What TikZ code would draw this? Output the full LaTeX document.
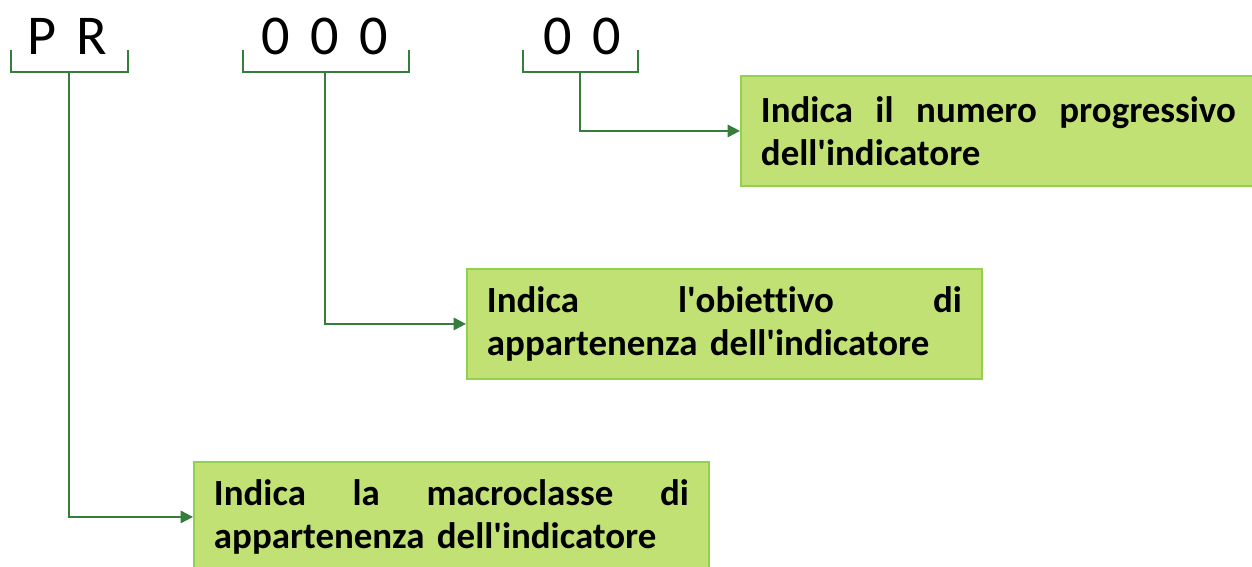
\documentclass[tikz,border=0pt]{standalone}
\usepackage{fontspec}
\setmainfont{Carlito}[Ligatures=CommonOff]
\newfontfamily\codefont{Carlito}[WordSpace=1.6]
\usetikzlibrary{arrows.meta,positioning}
\definecolor{boxfill}{RGB}{194,225,117}
\definecolor{boxline}{RGB}{146,208,80}
\definecolor{linkgreen}{RGB}{52,125,58}
\tikzset{
  code/.style={font=\codefont\fontsize{32}{34}\selectfont, inner sep=0pt, anchor=base},
  brace/.style={linkgreen, line width=1.1pt},
  link/.style={linkgreen, line width=1.1pt, -{Triangle[length=7pt,width=7pt]}},
  infobox/.style={draw=boxline, fill=boxfill, line width=1.1pt,
    minimum width=10.3cm, minimum height=2.2cm, text width=9.5cm,
    align=left, font=\bfseries\fontsize{21}{24.4}\selectfont,
    anchor=north west}
}
\begin{document}
\begin{tikzpicture}[x=0.02cm,y=-0.02cm]
  \useasboundingbox (0,0) rectangle (1252,567);
  % parts of the code
  \node[code] (pr)  at (67,55)  {P R};
  \node[code] (obj) at (325,55) {0 0 0};
  \node[code] (num) at (582,55) {0 0};
  % brackets under the parts
  \draw[brace] (11,50) |- (128,72) -- (128,50);
  \draw[brace] (243,50) |- (409,72) -- (409,50);
  \draw[brace] (523,50) |- (638,72) -- (638,50);
  \coordinate (prstem)  at (69,72);
  \coordinate (objstem) at (325,72);
  \coordinate (numstem) at (580,72);
  % explanations
  \node[infobox] (prog) at (740,75)
    {Indica\hfill il\hfill numero\hfill progressivo\\dell\textquotesingle indicatore};
  \node[infobox] (goal) at (466,268)
    {Indica\hfill l\textquotesingle obiettivo\hfill di\\appartenenza dell\textquotesingle indicatore};
  \node[infobox] (macro) at (193,461)
    {Indica\hfill la\hfill macroclasse\hfill di\\appartenenza dell\textquotesingle indicatore};
  % connectors
  \draw[link] (numstem) |- (prog.west);
  \draw[link] (objstem) |- (goal.west);
  \draw[link] (prstem) |- (macro.west);
\end{tikzpicture}
\end{document}
